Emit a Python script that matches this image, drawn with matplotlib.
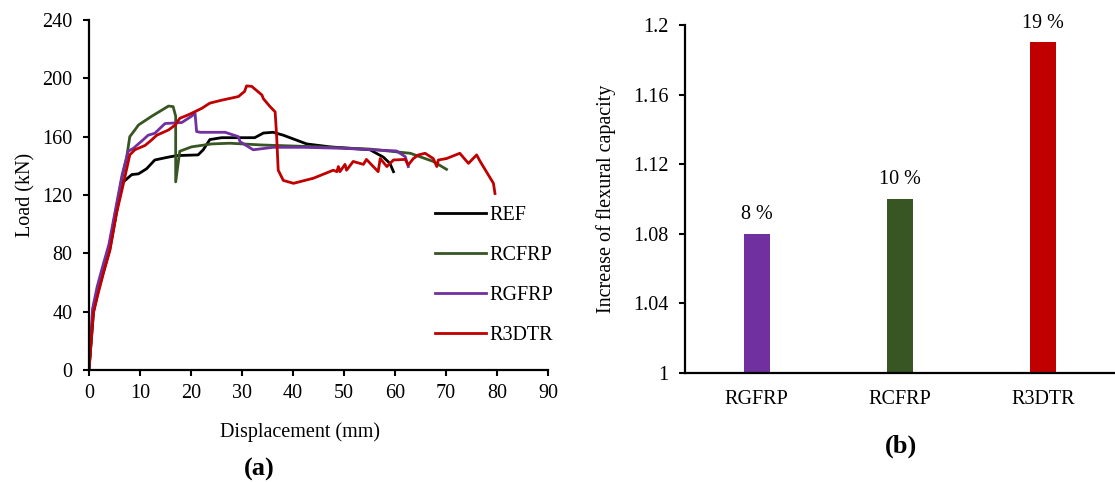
import numpy as np
import matplotlib
matplotlib.use("Agg")
import matplotlib.pyplot as plt

plt.rcParams['font.family'] = ['Liberation Serif', 'DejaVu Serif']

# load-displacement curves (mm, kN)
ref_d = [0, 0.9, 1.8, 2.8, 4.1, 5.4, 6.4, 8.4, 9.7, 11.3, 12.9, 15.6, 17.2, 21.4, 22.4,
         23.7, 26.0, 32.5, 34.2, 36.1, 38.1, 42.7, 47.3, 55.1, 57.7, 59.0, 59.7]
ref_l = [0, 40, 54, 67, 83, 108, 128, 134, 134.5, 138, 144, 146, 147, 147.5, 151,
         158, 159.3, 159.3, 162.5, 163, 161, 155, 153, 151, 146, 141.7, 136]

rcfrp_d = [0, 0.8, 1.7, 2.7, 4.0, 5.3, 6.5, 7.4, 8.0, 9.0, 9.7, 12.3, 15.6, 16.5, 17.0, 17.0,
           17.8, 20.1, 24.0, 27.6, 33.9, 45.0, 55.0, 63.0, 67.5, 70.1]
rcfrp_l = [0, 41, 55, 68, 85, 110, 132, 146, 160, 164.6, 168, 174, 181, 180.6, 174, 129,
           150, 153, 155, 155.5, 154.3, 153, 151.5, 148.6, 143, 137.6]

rgfrp_d = [0, 0.7, 1.6, 2.6, 3.9, 5.2, 6.5, 7.7, 8.7, 10.6, 11.6, 12.9, 14.9, 18.2, 20.1,
           20.8, 21.1, 21.8, 26.7, 29.3, 29.6, 32.2, 36.1, 42.0, 50.0, 60.3, 62.0, 62.6]
rgfrp_l = [0, 42, 57, 70, 86, 110, 134, 150, 152, 157.8, 161, 162.3, 169, 169.7, 174,
           176, 163.5, 163, 163, 160, 156.6, 151, 152.7, 152.7, 152, 150.2, 146.3, 139.5]

r3dtr_d = [0, 0.85, 1.8, 2.8, 4.1, 5.4, 6.7, 8.0, 9.0, 11.0, 12.3, 13.3, 15.6, 16.9, 17.8,
           19.5, 22.1, 23.7, 26.0, 29.3, 30.5, 30.9, 31.9, 33.9, 34.2, 35.5, 36.5, 36.8,
           37.1, 38.1, 40.1, 44.0, 47.9, 48.6, 48.9, 49.2, 50.2, 50.5, 51.8, 53.8, 54.4,
           56.7, 57.1, 58.4, 59.7, 62.0, 62.6, 63.6, 64.6, 65.9, 67.5, 68.2, 68.5, 70.1,
           72.7, 74.4, 76.0, 76.7, 79.3, 79.6]
r3dtr_l = [0, 39, 52.6, 66, 82, 107.5, 127, 147.5, 151, 154, 157.8, 161, 164.6, 168, 172.6,
           175, 179.4, 183, 185, 187.5, 191, 194.8, 194.5, 188.6, 186, 180.6, 177, 160,
           137, 130, 128, 131.5, 137, 136, 139.5, 136, 141, 137, 143, 141, 144.4,
           136, 145, 139.5, 144, 144.4, 140.6, 145, 147.5, 148.6, 145, 139.5, 144, 145,
           148.6, 141.7, 147.5, 143, 128, 121]

# flexural capacity ratio relative to REF
bar_names = ['RGFRP', 'RCFRP', 'R3DTR']
bar_vals = [1.08, 1.10, 1.19]
bar_text = ['8 %', '10 %', '19 %']
bar_colors = ['#7030A0', '#375623', '#C00000']

FS = 14.5

fig = plt.figure(figsize=(11.15, 4.82), dpi=100)
ax1 = fig.add_axes([0.0798, 0.2324, 0.4117, 0.7261])
ax2 = fig.add_axes([0.6143, 0.2261, 0.3857, 0.7219])

for ax in (ax1, ax2):
    ax.spines['top'].set_visible(False)
    ax.spines['right'].set_visible(False)
    ax.spines['left'].set_linewidth(1.6)
    ax.spines['bottom'].set_linewidth(1.6)
    ax.tick_params(labelsize=FS, width=1.5, length=4.3, pad=7.5, direction='out')

# (a) load vs displacement
ax1.plot(ref_d, ref_l, color='black', lw=2.0, label='REF')
ax1.plot(rcfrp_d, rcfrp_l, color='#375623', lw=2.0, label='RCFRP')
ax1.plot(rgfrp_d, rgfrp_l, color='#7030A0', lw=2.0, label='RGFRP')
ax1.plot(r3dtr_d, r3dtr_l, color='#C00000', lw=2.0, label='R3DTR')
ax1.set_xlim(0, 90)
ax1.set_ylim(0, 240)
ax1.set_xticks(np.arange(0, 91, 10))
ax1.set_yticks(np.arange(0, 241, 40))
ax1.tick_params(axis='x', pad=6)
ax1.set_xlabel('Displacement (mm)', fontsize=FS)
ax1.xaxis.set_label_coords(0.46, -0.15)
ax1.set_ylabel('Load (kN)', fontsize=FS, labelpad=5)
ax1.legend(loc='center left', bbox_to_anchor=(0.737, 0.27), frameon=False, fontsize=FS,
           handlelength=2.5, handletextpad=0.2, labelspacing=1.05, borderaxespad=0)
ax1.text(0.37, -0.283, '(a)', transform=ax1.transAxes, fontsize=19, fontweight='bold',
         ha='center', va='center')

# (b) increase of flexural capacity
x = np.arange(len(bar_names))
ax2.bar(x, bar_vals, width=0.18, color=bar_colors)
for xi, v, t in zip(x, bar_vals, bar_text):
    ax2.text(xi, v + 0.0055, t, ha='center', va='bottom', fontsize=FS)
ax2.set_xlim(-0.5, 2.5)
ax2.set_ylim(1, 1.2)
ax2.set_yticks([1, 1.04, 1.08, 1.12, 1.16, 1.2])
ax2.set_yticklabels(['1', '1.04', '1.08', '1.12', '1.16', '1.2'])
ax2.set_xticks(x)
ax2.set_xticklabels(bar_names)
ax2.tick_params(axis='x', length=0, pad=12)
ax2.set_ylabel('Increase of flexural capacity', fontsize=FS, labelpad=12)
ax2.text(0.502, -0.212, '(b)', transform=ax2.transAxes, fontsize=19, fontweight='bold',
         ha='center', va='center')

fig.savefig('out.png', dpi=100)
